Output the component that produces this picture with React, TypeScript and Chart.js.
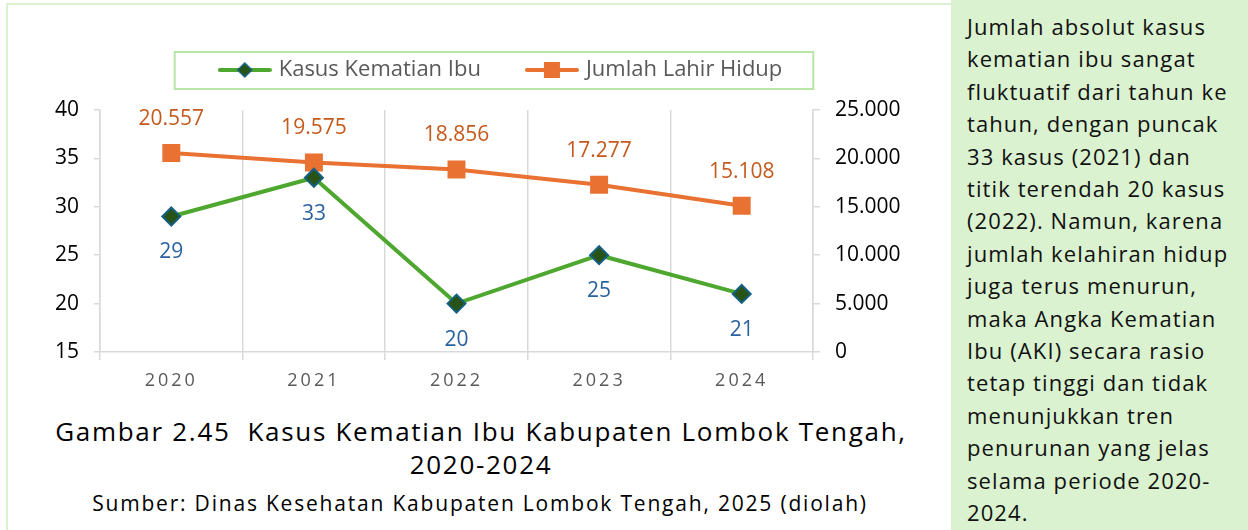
import React, { useEffect, useRef } from 'react';
import { Chart, registerables } from 'chart.js';

Chart.register(...registerables);

// ---------- data ----------
const years = ['2020', '2021', '2022', '2023', '2024'];
const kasusKematianIbu = [29, 33, 20, 25, 21];
const jumlahLahirHidup = [20557, 19575, 18856, 17277, 15108];
const seriesNames = ['Kasus Kematian Ibu', 'Jumlah Lahir Hidup'];
const leftAxisRange = [15, 40];
const leftAxisStep = 5;
const rightAxisRange = [0, 25000];
const rightAxisStep = 5000;

const captionLine1 = 'Gambar 2.45  Kasus Kematian Ibu Kabupaten Lombok Tengah,';
const captionLine2 = '2020-2024';
const sourceLine = 'Sumber: Dinas Kesehatan Kabupaten Lombok Tengah, 2025 (diolah)';
const panelLines = [
  'Jumlah absolut kasus',
  'kematian ibu sangat',
  'fluktuatif dari tahun ke',
  'tahun, dengan puncak',
  '33 kasus (2021) dan',
  'titik terendah 20 kasus',
  '(2022). Namun, karena',
  'jumlah kelahiran hidup',
  'juga terus menurun,',
  'maka Angka Kematian',
  'Ibu (AKI) secara rasio',
  'tetap tinggi dan tidak',
  'menunjukkan tren',
  'penurunan yang jelas',
  'selama periode 2020-',
  '2024.',
];

// ---------- styles ----------
const FONT = '"Open Sans", "Noto Sans", sans-serif';
const GREEN = '#4ea72e';
const GREEN_DARK = '#275317';
const BLUE = '#156082';
const ORANGE = '#e97132';
const LABEL_BLUE = '#2a62a0';
const LABEL_ORANGE = '#c55a1e';
const GRID = '#d9d9d9';
const PANEL = '#daf2d0';
const BOX_GREEN = '#b7e6a5';

function fmt(n: number): string {
  return String(n).replace(/\B(?=(\d{3})+(?!\d))/g, '.');
}

function makeLegendImage(kind: 'diamond' | 'square'): HTMLCanvasElement {
  const c = document.createElement('canvas');
  c.width = 54;
  c.height = 20;
  const ctx = c.getContext('2d')!;
  ctx.lineCap = 'round';
  ctx.lineWidth = 4;
  ctx.strokeStyle = kind === 'diamond' ? GREEN : ORANGE;
  ctx.beginPath();
  ctx.moveTo(2, 10);
  ctx.lineTo(52, 10);
  ctx.stroke();
  if (kind === 'diamond') {
    ctx.beginPath();
    ctx.moveTo(27, 3);
    ctx.lineTo(34, 10);
    ctx.lineTo(27, 17);
    ctx.lineTo(20, 10);
    ctx.closePath();
    ctx.fillStyle = GREEN_DARK;
    ctx.fill();
    ctx.lineWidth = 1.5;
    ctx.strokeStyle = BLUE;
    ctx.stroke();
  } else {
    ctx.fillStyle = ORANGE;
    ctx.fillRect(19, 2, 16, 16);
  }
  return c;
}

const dataLabelPlugin = {
  id: 'dataLabelPlugin',
  afterDatasetsDraw(chart: any) {
    const ctx = chart.ctx;
    const colors = [LABEL_BLUE, LABEL_ORANGE];
    const offsets = [36, -34];
    chart.data.datasets.forEach((ds: any, i: number) => {
      const meta = chart.getDatasetMeta(i);
      meta.data.forEach((pt: any, j: number) => {
        ctx.save();
        ctx.font = `21px ${FONT}`;
        ctx.fillStyle = colors[i];
        ctx.textAlign = 'center';
        ctx.textBaseline = 'middle';
        ctx.fillText(fmt(ds.data[j]), pt.x, pt.y + offsets[i]);
        ctx.restore();
      });
    });
  },
};

const legendBoxPlugin = {
  id: 'legendBoxPlugin',
  afterDraw(chart: any) {
    const lg = chart.legend;
    if (!lg || !lg.legendHitBoxes || !lg.legendHitBoxes.length) return;
    const hb = lg.legendHitBoxes;
    const first = hb[0];
    const last = hb[hb.length - 1];
    const cy = first.top + first.height / 2;
    const left = first.left - 47;
    const right = last.left + last.width + 31;
    const ctx = chart.ctx;
    ctx.save();
    ctx.strokeStyle = BOX_GREEN;
    ctx.lineWidth = 2;
    ctx.strokeRect(left, cy - 18, right - left, 37);
    ctx.restore();
  },
};

const xLetterSpacingPlugin = {
  id: 'xLetterSpacingPlugin',
  afterLayout(chart: any) {
    const xs: any = chart.scales.x;
    if (xs && !xs.__patched) {
      const orig = xs.drawLabels;
      xs.drawLabels = function (area: any) {
        const ctx = this.ctx;
        ctx.save();
        ctx.letterSpacing = '3px';
        orig.call(this, area);
        ctx.restore();
      };
      xs.__patched = true;
    }
  },
};

function ChartCanvas() {
  const ref = useRef<HTMLCanvasElement | null>(null);
  useEffect(() => {
    if (!ref.current) return;
    const imgs = [makeLegendImage('diamond'), makeLegendImage('square')];
    const chart = new Chart(ref.current, {
      type: 'line',
      data: {
        labels: years,
        datasets: [
          {
            label: seriesNames[0],
            data: kasusKematianIbu,
            yAxisID: 'y',
            borderColor: GREEN,
            backgroundColor: GREEN,
            borderWidth: 4,
            pointStyle: 'rectRot',
            pointRadius: 9,
            pointHoverRadius: 9,
            pointBackgroundColor: GREEN_DARK,
            pointBorderColor: BLUE,
            pointBorderWidth: 2,
            tension: 0,
          },
          {
            label: seriesNames[1],
            data: jumlahLahirHidup,
            yAxisID: 'y1',
            borderColor: ORANGE,
            backgroundColor: ORANGE,
            borderWidth: 4,
            pointStyle: 'rect',
            pointRadius: 12.7,
            pointHoverRadius: 12.7,
            pointBackgroundColor: ORANGE,
            pointBorderColor: ORANGE,
            pointBorderWidth: 0,
            tension: 0,
          },
        ],
      },
      options: {
        animation: false,
        responsive: false,
        maintainAspectRatio: false,
        events: [],
        layout: { padding: { left: 53, right: 0, top: 11, bottom: 0 } },
        plugins: {
          tooltip: { enabled: false },
          subtitle: {
            display: true,
            position: 'top',
            text: '',
            padding: 0,
            font: { family: FONT, size: 19, lineHeight: 1 },
          },
          legend: {
            display: true,
            position: 'top',
            weight: 3000,
            labels: {
              usePointStyle: true,
              pointStyleWidth: 46,
              boxHeight: 22,
              padding: 48,
              color: '#595959',
              font: { family: FONT, size: 22 },
              generateLabels: (ch: any) =>
                ch.data.datasets.map((ds: any, i: number) => ({
                  text: ds.label,
                  pointStyle: imgs[i],
                  fillStyle: ds.borderColor,
                  strokeStyle: ds.borderColor,
                  lineWidth: 0,
                  hidden: false,
                  datasetIndex: i,
                  fontColor: '#595959',
                })),
            },
          },
        },
        scales: {
          x: {
            type: 'category',
            offset: true,
            grid: {
              offset: true,
              color: GRID,
              lineWidth: 1.5,
              drawTicks: true,
              tickLength: 8,
            },
            border: { display: true, color: GRID, width: 1.5 },
            ticks: {
              color: '#595959',
              font: { family: FONT, size: 18 },
              padding: 10,
              maxRotation: 0,
            },
            afterFit: (s: any) => {
              s.height = 48;
            },
          },
          y: {
            type: 'linear',
            position: 'left',
            min: leftAxisRange[0],
            max: leftAxisRange[1],
            ticks: {
              stepSize: leftAxisStep,
              color: '#000000',
              font: { family: FONT, size: 21 },
              padding: 15,
            },
            grid: {
              drawOnChartArea: false,
              drawTicks: true,
              tickLength: 6,
              color: GRID,
              lineWidth: 1.5,
            },
            border: { display: true, color: GRID, width: 1.5 },
            afterFit: (s: any) => {
              s.width = 47;
            },
          },
          y1: {
            type: 'linear',
            position: 'right',
            min: rightAxisRange[0],
            max: rightAxisRange[1],
            ticks: {
              stepSize: rightAxisStep,
              color: '#000000',
              font: { family: FONT, size: 21 },
              padding: 15,
              callback: (v: any) => fmt(Number(v)),
            },
            grid: {
              drawOnChartArea: false,
              drawTicks: true,
              tickLength: 7,
              color: GRID,
              lineWidth: 1.5,
            },
            border: { display: true, color: GRID, width: 1.5 },
            afterFit: (s: any) => {
              s.width = 138;
            },
          },
        },
      } as any,
      plugins: [dataLabelPlugin, legendBoxPlugin, xLetterSpacingPlugin],
    });
    chart.draw();
    return () => chart.destroy();
  }, []);
  return (
    <canvas
      ref={ref}
      width={951}
      height={400}
      style={{ position: 'absolute', left: 0, top: 0, width: 951, height: 400 }}
    />
  );
}

export default function App() {
  return (
    <div
      style={{
        position: 'absolute',
        left: 0,
        top: 0,
        width: 1248,
        height: 530,
        overflow: 'hidden',
        background: '#ffffff',
        fontFamily: FONT,
      }}
    >
      <div
        style={{
          position: 'absolute',
          left: 6,
          top: 3,
          width: 970,
          height: 560,
          border: `2px solid ${PANEL}`,
          boxSizing: 'border-box',
        }}
      />
      <ChartCanvas />
      <div
        style={{
          position: 'absolute',
          left: 0,
          width: 962,
          top: 415,
          textAlign: 'center',
          color: '#000000',
          fontSize: 26,
          lineHeight: '33px',
          letterSpacing: '1.7px',
          whiteSpace: 'pre',
        }}
      >
        <div>{captionLine1}</div>
        <div>{captionLine2}</div>
      </div>
      <div
        style={{
          position: 'absolute',
          left: 0,
          width: 960,
          top: 490,
          textAlign: 'center',
          color: '#000000',
          fontSize: 21,
          lineHeight: '27px',
          letterSpacing: '1.8px',
          whiteSpace: 'pre',
        }}
      >
        {sourceLine}
      </div>
      <div
        style={{
          position: 'absolute',
          left: 951,
          top: 0,
          width: 297,
          height: 530,
          background: PANEL,
          boxSizing: 'border-box',
          paddingLeft: 16,
          paddingTop: 10,
          color: '#111111',
          fontSize: 22,
          lineHeight: '32.4px',
          letterSpacing: '1.1px',
          zIndex: 2,
        }}
      >
        {panelLines.map((l, i) => (
          <div key={i} style={{ whiteSpace: 'nowrap' }}>
            {l}
          </div>
        ))}
      </div>
    </div>
  );
}
